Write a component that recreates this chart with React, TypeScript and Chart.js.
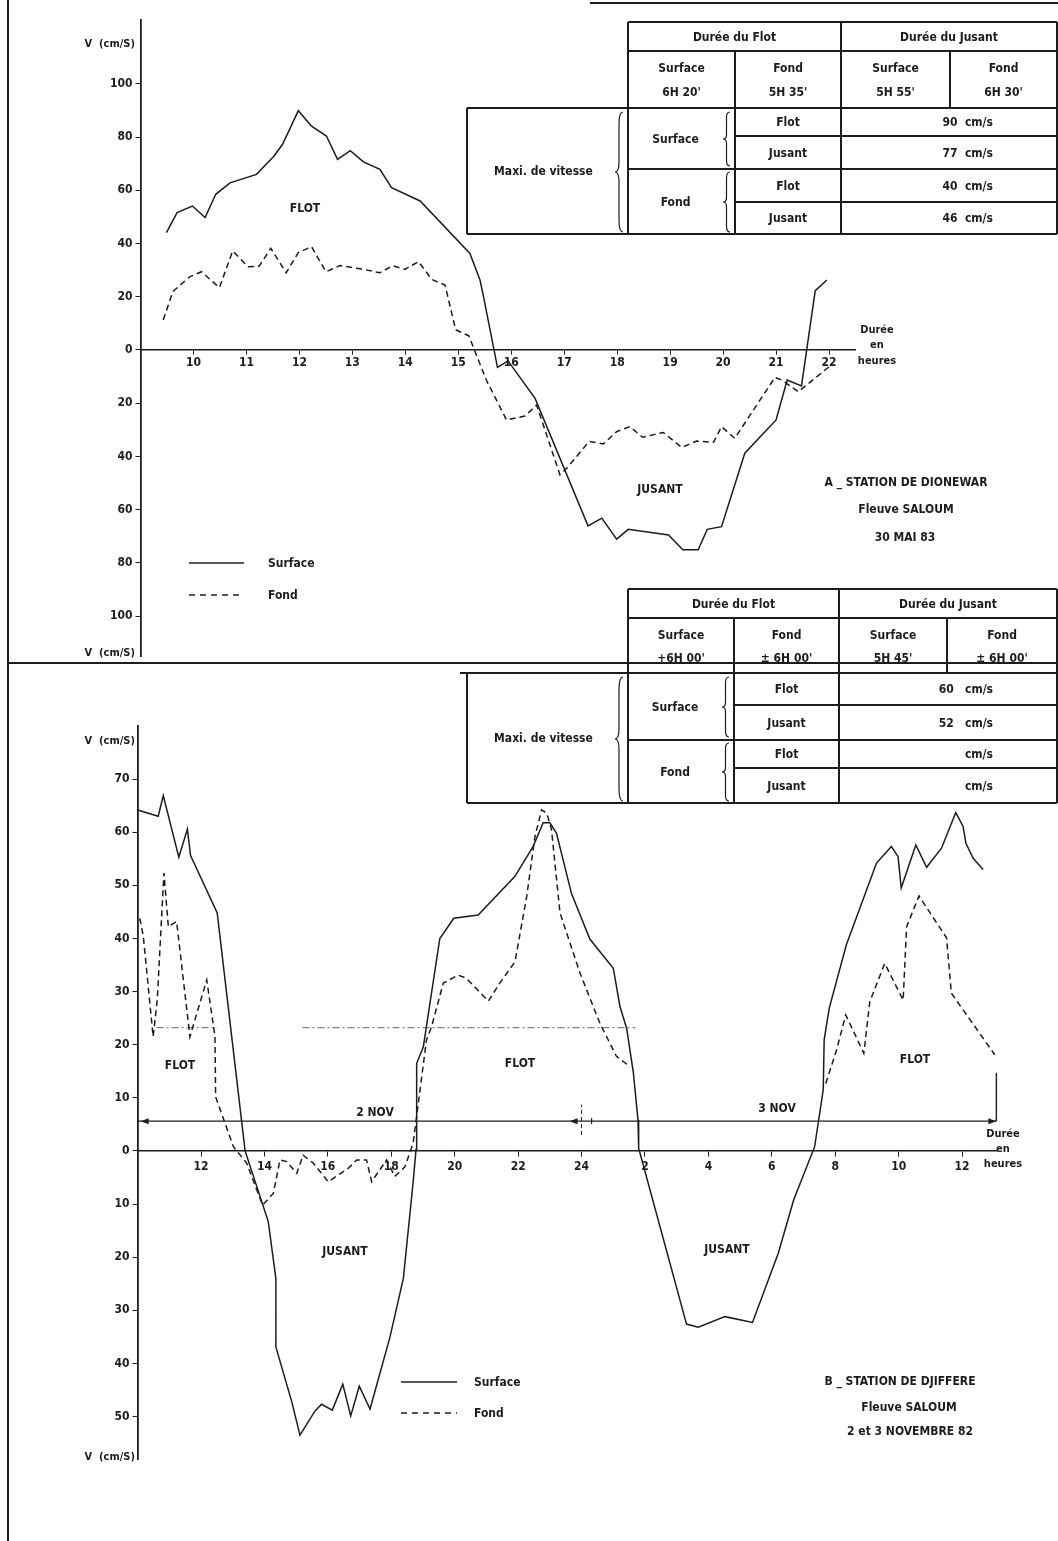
import React, { useEffect, useRef } from "react";
import { Chart, registerables } from "chart.js";

Chart.register(...registerables);

const FONT = '"DejaVu Sans Condensed", "Liberation Sans Narrow", "DejaVu Sans", sans-serif';
const INK = "#1c1c1c";

// ---------------- Panel A : Station de Dionewar, 30 mai 83 ----------------
const A_SURFACE_H = [9.49, 9.69, 9.98, 10.22, 10.42, 10.69, 11.19, 11.51, 11.68, 11.98, 12.23, 12.51, 12.72, 12.96, 13.21, 13.52, 13.74, 14.28, 15.22, 15.41, 15.47, 15.74, 15.94, 16.45, 17.45, 17.71, 17.99, 18.21, 18.97, 19.24, 19.53, 19.7, 19.97, 20.41, 21.0, 21.21, 21.48, 21.74, 21.96];
const A_SURFACE_V = [44.1, 51.6, 54.1, 49.8, 58.5, 62.8, 66.0, 72.6, 77.2, 89.9, 84.1, 80.4, 71.6, 74.9, 70.7, 67.9, 61.0, 56.0, 36.3, 26.3, 20.7, -6.5, -4.1, -18.2, -66.1, -63.2, -71.1, -67.4, -69.5, -75.1, -75.1, -67.4, -66.4, -38.8, -26.3, -11.3, -13.5, 22.3, 26.3];
const A_FOND_H = [9.43, 9.61, 9.75, 9.93, 10.15, 10.49, 10.74, 11.03, 11.24, 11.46, 11.75, 11.98, 12.23, 12.5, 12.77, 13.21, 13.52, 13.76, 13.99, 14.25, 14.5, 14.75, 14.95, 15.2, 15.38, 15.53, 15.91, 16.26, 16.48, 16.92, 17.05, 17.47, 17.74, 17.99, 18.24, 18.48, 18.87, 19.22, 19.5, 19.82, 19.97, 20.22, 20.98, 21.11, 21.42, 22.02];
const A_FOND_V = [11.3, 21.9, 24.4, 27.5, 29.4, 23.4, 37.2, 31.3, 31.5, 38.2, 29.0, 36.6, 38.8, 29.4, 31.7, 30.3, 29.0, 31.7, 30.3, 33.2, 26.5, 24.4, 7.6, 5.3, -3.8, -11.3, -26.3, -24.8, -20.7, -46.9, -44.4, -34.4, -35.3, -30.7, -28.8, -32.8, -31.0, -36.6, -34.2, -34.7, -28.8, -33.2, -10.3, -11.3, -15.7, -6.0];
const A_X_TICKS = [10, 11, 12, 13, 14, 15, 16, 17, 18, 19, 20, 21, 22];
const A_Y_TICKS = [-100, -80, -60, -40, -20, 0, 20, 40, 60, 80, 100];

// ---------------- Panel B : Station de Djiffere, 2 et 3 novembre 82 ----------------
const B_SURFACE_H = [10.0, 10.65, 10.81, 11.3, 11.57, 11.67, 12.51, 13.39, 14.12, 14.36, 14.36, 14.86, 15.12, 15.59, 15.8, 16.14, 16.47, 16.72, 16.99, 17.33, 17.96, 18.38, 18.69, 18.78, 18.8, 19.01, 19.53, 19.97, 20.74, 21.9, 22.47, 22.79, 23.0, 23.21, 23.68, 24.26, 25.0, 25.21, 25.42, 25.63, 25.78, 25.8, 27.31, 27.68, 28.52, 29.39, 30.2, 30.69, 31.35, 31.62, 31.65, 31.81, 32.35, 33.3, 33.77, 33.98, 34.08, 34.54, 34.88, 35.35, 35.8, 36.03, 36.12, 36.35, 36.66];
const B_SURFACE_V = [64.2, 63.0, 66.9, 55.3, 60.6, 55.6, 44.8, 0, -13.3, -24.0, -36.9, -47.2, -53.5, -49.0, -47.7, -48.8, -43.9, -49.9, -44.3, -48.6, -35.0, -24.0, -5.8, 0.3, 16.5, 19.6, 40.0, 43.8, 44.4, 51.7, 57.3, 61.8, 61.8, 59.8, 48.5, 39.9, 34.4, 27.2, 23.1, 14.9, 5.8, 0.5, -32.6, -33.2, -31.2, -32.3, -19.3, -9.2, 0.8, 11.5, 20.9, 26.9, 38.8, 54.2, 57.3, 55.4, 49.5, 57.6, 53.4, 57.0, 63.7, 61.1, 57.9, 55.1, 53.0];
const B_FOND_H = [10.07, 10.18, 10.49, 10.62, 10.83, 10.97, 11.23, 11.65, 12.18, 12.44, 12.46, 13.02, 13.44, 13.94, 14.28, 14.49, 14.7, 15.02, 15.22, 15.54, 16.01, 16.64, 16.91, 17.22, 17.38, 17.85, 18.11, 18.43, 18.69, 19.11, 19.27, 19.64, 20.11, 20.37, 21.06, 21.42, 21.9, 22.27, 22.53, 22.74, 22.9, 23.05, 23.32, 23.95, 24.58, 25.1, 25.52, 28.5, 31.7, 32.04, 32.33, 32.9, 33.09, 33.56, 34.14, 34.25, 34.64, 35.51, 35.66, 37.03];
const B_FOND_V = [43.8, 40.4, 21.5, 28.4, 52.3, 42.2, 43.2, 21.5, 32.2, 21.5, 10.2, 0.8, -2.3, -10.2, -8.0, -1.7, -2.0, -4.2, -0.8, -2.3, -5.8, -3.3, -1.7, -1.7, -5.8, -1.7, -4.8, -3.0, 1.5, 20.9, 23.4, 31.6, 33.1, 32.5, 28.2, 31.6, 35.6, 47.9, 59.2, 64.2, 63.6, 60.6, 44.8, 33.5, 24.0, 17.8, 15.9, null, 12.7, 19.0, 25.6, 18.4, 28.1, 35.3, 28.4, 42.2, 48.0, 40.1, 29.7, 18.1];
const B_REF_H = [10.6, 12.5, 12.6, 15.2, 25.7];
const B_REF_V = [23.2, 23.2, null, 23.2, 23.2];
const B_X_TICKS = [12, 14, 16, 18, 20, 22, 24, 26, 28, 30, 32, 34, 36];
const B_Y_TICKS = [-50, -40, -30, -20, -10, 0, 10, 20, 30, 40, 50, 60, 70];
const B_DAY_LINE_V = 5.6;
const B_DAY_START_H = 10;
const B_DAY_SPLIT_H = 24;
const B_DAY_END_H = 37.08;
const B_END_BAR_TOP_V = 14.7;

// ---------------- Tables ----------------
const TABLE_HEAD = ["Durée du Flot", "Durée du Jusant"];
const TABLE_SUB = ["Surface", "Fond", "Surface", "Fond"];
const TABLE_ROWS = ["Flot", "Jusant", "Flot", "Jusant"];
const TABLE_GROUPS = ["Surface", "Fond"];
const A_DUREES = ["6H 20'", "5H 35'", "5H 55'", "6H 30'"];
const A_MAXI = ["90  cm/s", "77  cm/s", "40  cm/s", "46  cm/s"];
const B_DUREES = ["+6H 00'", "± 6H 00'", "5H 45'", "± 6H 00'"];
const B_MAXI = ["60   cm/s", "52   cm/s", "cm/s", "cm/s"];

const pts = (hs: number[], vs: (number | null)[]) => hs.map((h, i) => ({ x: h, y: vs[i] }));

const tickFont = { family: FONT, size: 12, weight: "bold" as const };

function buildOptions(o: {
  xMin: number; xMax: number; yMin: number; yMax: number;
  xTicks: number[]; yTicks: number[]; yWidth: number;
  pad: { top: number; right: number; bottom: number };
  xLabel: (v: number) => string; xTickLen: number; xPad: number;
}) {
  return {
    responsive: false,
    animation: false as const,
    devicePixelRatio: 1,
    layout: { padding: { left: 0, top: o.pad.top, right: o.pad.right, bottom: o.pad.bottom } },
    plugins: { legend: { display: false }, tooltip: { enabled: false }, title: { display: false } },
    elements: { point: { radius: 0 }, line: { tension: 0 } },
    scales: {
      x: {
        type: "linear" as const,
        min: o.xMin,
        max: o.xMax,
        position: { y: 0 },
        afterBuildTicks: (s: any) => { s.ticks = o.xTicks.map((v) => ({ value: v })); },
        ticks: { callback: (v: any) => o.xLabel(Number(v)), font: tickFont, color: INK, padding: o.xPad, maxRotation: 0, autoSkip: false },
        grid: { display: true, drawOnChartArea: false, drawTicks: true, tickLength: o.xTickLen, color: INK, lineWidth: 1 },
        border: { display: true, color: INK, width: 1.6 },
      },
      y: {
        type: "linear" as const,
        min: o.yMin,
        max: o.yMax,
        position: "left" as const,
        afterFit: (s: any) => { s.width = o.yWidth; },
        afterBuildTicks: (s: any) => { s.ticks = o.yTicks.map((v) => ({ value: v })); },
        ticks: { callback: (v: any) => String(Math.abs(Number(v))), font: tickFont, color: INK, padding: 3, autoSkip: false },
        grid: { display: true, drawOnChartArea: false, drawTicks: true, tickLength: 5, color: INK, lineWidth: 1 },
        border: { display: true, color: INK, width: 1.8 },
      },
    },
  };
}

function arrowHead(ctx: CanvasRenderingContext2D, tipX: number, y: number, dir: number) {
  ctx.beginPath();
  ctx.moveTo(tipX, y);
  ctx.lineTo(tipX - dir * 8, y - 3);
  ctx.lineTo(tipX - dir * 8, y + 3);
  ctx.closePath();
  ctx.fill();
}

const dayPlugin = {
  id: "dayArrows",
  afterDatasetsDraw(chart: any) {
    const { ctx, scales } = chart;
    const x = scales.x, y = scales.y;
    const py = y.getPixelForValue(B_DAY_LINE_V);
    const xs = x.getPixelForValue(B_DAY_START_H);
    const xm = x.getPixelForValue(B_DAY_SPLIT_H);
    const xe = x.getPixelForValue(B_DAY_END_H);
    ctx.save();
    ctx.fillStyle = INK;
    ctx.strokeStyle = INK;
    arrowHead(ctx, xs + 3, py, -1);
    arrowHead(ctx, xm - 12, py, -1);
    ctx.lineWidth = 1.2;
    ctx.beginPath();
    ctx.moveTo(xm + 10, py - 3);
    ctx.lineTo(xm + 10, py + 3);
    ctx.stroke();
    arrowHead(ctx, xe, py, 1);
    ctx.lineWidth = 1.4;
    ctx.beginPath();
    ctx.moveTo(xe, py);
    ctx.lineTo(xe, y.getPixelForValue(B_END_BAR_TOP_V));
    ctx.stroke();
    ctx.setLineDash([4, 3]);
    ctx.lineWidth = 1;
    ctx.beginPath();
    ctx.moveTo(xm, y.getPixelForValue(3.0));
    ctx.lineTo(xm, y.getPixelForValue(8.7));
    ctx.stroke();
    ctx.restore();
  },
};

function ChartCanvas(props: { left: number; top: number; width: number; height: number; config: () => any }) {
  const ref = useRef<HTMLCanvasElement | null>(null);
  useEffect(() => {
    if (!ref.current) return;
    const chart = new Chart(ref.current, props.config());
    return () => chart.destroy();
  }, []);
  return (
    <canvas
      ref={ref}
      width={props.width}
      height={props.height}
      style={{ position: "absolute", left: props.left, top: props.top, width: props.width, height: props.height }}
    />
  );
}

const lineDs = (label: string, data: any[], dashed: boolean, width = 1.5) => ({
  label,
  data,
  borderColor: INK,
  backgroundColor: INK,
  borderWidth: width,
  borderDash: dashed ? [6, 4] : [],
  pointRadius: 0,
  fill: false,
  spanGaps: false,
});

const configA = () => ({
  type: "line",
  data: {
    datasets: [
      lineDs("Surface", pts(A_SURFACE_H, A_SURFACE_V), false),
      lineDs("Fond", pts(A_FOND_H, A_FOND_V), true),
    ],
  },
  options: buildOptions({
    xMin: 9, xMax: 22.5, yMin: -115, yMax: 124,
    xTicks: A_X_TICKS, yTicks: A_Y_TICKS, yWidth: 140.5,
    pad: { top: 20, right: 880 - 855.5, bottom: 670 - 656 },
    xLabel: (v) => String(v), xTickLen: 4, xPad: 2,
  }),
});

const configB = () => ({
  type: "line",
  data: {
    datasets: [
      lineDs("Surface", pts(B_SURFACE_H, B_SURFACE_V), false),
      lineDs("Fond", pts(B_FOND_H, B_FOND_V), true),
      { ...lineDs("Référence", pts(B_REF_H, B_REF_V), true, 0.9), borderDash: [7, 3, 2, 3], borderColor: "#555" },
      lineDs("2 NOV", pts([B_DAY_START_H, B_DAY_SPLIT_H], [B_DAY_LINE_V, B_DAY_LINE_V]), false, 1.2),
      lineDs("3 NOV", pts([B_DAY_SPLIT_H, B_DAY_END_H], [B_DAY_LINE_V, B_DAY_LINE_V]), false, 1.2),
    ],
  },
  options: buildOptions({
    xMin: 10, xMax: 37.1, yMin: -58, yMax: 80,
    xTicks: B_X_TICKS, yTicks: B_Y_TICKS, yWidth: 137.6,
    pad: { top: 26, right: 1058 - 997, bottom: 1480 - 1459 },
    xLabel: (v) => String(v > 24 ? v - 24 : v), xTickLen: 5, xPad: 4,
  }),
  plugins: [dayPlugin],
});

function Txt(p: { x: number; y: number; children: React.ReactNode; align?: "center" | "left" | "right"; size?: number; weight?: string }) {
  const align = p.align || "center";
  const tx = align === "center" ? "-50%" : align === "right" ? "-100%" : "0";
  return (
    <div
      style={{
        position: "absolute", left: p.x, top: p.y, transform: `translate(${tx}, -50%)`,
        fontFamily: FONT, fontSize: p.size || 12, fontWeight: (p.weight || "bold") as any,
        color: INK, whiteSpace: "pre", lineHeight: 1,
      }}
    >
      {p.children}
    </div>
  );
}

function HL(p: { x1: number; x2: number; y: number; w?: number }) {
  const w = p.w || 1.5;
  return <div style={{ position: "absolute", left: p.x1, top: p.y - w / 2, width: p.x2 - p.x1, height: w, background: INK }} />;
}
function VL(p: { x: number; y1: number; y2: number; w?: number }) {
  const w = p.w || 1.5;
  return <div style={{ position: "absolute", left: p.x - w / 2, top: p.y1, width: w, height: p.y2 - p.y1, background: INK }} />;
}

function Brace(p: { x: number; y1: number; y2: number; w?: number }) {
  const w = p.w || 8;
  const h = p.y2 - p.y1;
  const m = w / 2;
  const d = `M ${w} 0 Q ${m} 0 ${m} ${h * 0.1} L ${m} ${h * 0.42} Q ${m} ${h / 2} 0 ${h / 2} Q ${m} ${h / 2} ${m} ${h * 0.58} L ${m} ${h * 0.9} Q ${m} ${h} ${w} ${h}`;
  return (
    <svg style={{ position: "absolute", left: p.x, top: p.y1, overflow: "visible" }} width={w} height={h}>
      <path d={d} fill="none" stroke={INK} strokeWidth={1.2} />
    </svg>
  );
}

function LegendRow(p: { x1: number; x2: number; y: number; dashed: boolean; label: string; labelX: number }) {
  return (
    <>
      <svg style={{ position: "absolute", left: p.x1, top: p.y - 2 }} width={p.x2 - p.x1} height={4}>
        <line x1={0} y1={2} x2={p.x2 - p.x1} y2={2} stroke={INK} strokeWidth={1.5} strokeDasharray={p.dashed ? "6 5" : undefined} />
      </svg>
      <Txt x={p.labelX} y={p.y} align="left">{p.label}</Txt>
    </>
  );
}

function DataTable(p: {
  cols: number[]; yTop: number; yHead: number; ySplit: number; rows: number[]; yBottom: number;
  splitLeft: number; durees: string[]; maxi: string[];
}) {
  const c = p.cols;
  const [r1, r2, r3] = p.rows;
  const rowMids = [(p.ySplit + r1) / 2, (r1 + r2) / 2, (r2 + r3) / 2, (r3 + p.yBottom) / 2];
  return (
    <>
      <HL x1={c[1]} x2={c[5]} y={p.yTop} />
      <HL x1={c[1]} x2={c[5]} y={p.yHead} />
      <HL x1={p.splitLeft} x2={c[5]} y={p.ySplit} />
      <HL x1={c[2]} x2={c[5]} y={r1} />
      <HL x1={c[1]} x2={c[5]} y={r2} />
      <HL x1={c[2]} x2={c[5]} y={r3} />
      <HL x1={c[0]} x2={c[5]} y={p.yBottom} />
      <VL x={c[0]} y1={p.ySplit} y2={p.yBottom} />
      <VL x={c[1]} y1={p.yTop} y2={p.yBottom} />
      <VL x={c[2]} y1={p.yHead} y2={p.yBottom} />
      <VL x={c[3]} y1={p.yTop} y2={p.yBottom} />
      <VL x={c[4]} y1={p.yHead} y2={p.ySplit} />
      <VL x={c[5]} y1={p.yTop} y2={p.yBottom} />
      <Txt x={(c[1] + c[3]) / 2} y={(p.yTop + p.yHead) / 2}>{TABLE_HEAD[0]}</Txt>
      <Txt x={(c[3] + c[5]) / 2} y={(p.yTop + p.yHead) / 2}>{TABLE_HEAD[1]}</Txt>
      {TABLE_SUB.map((s, i) => (
        <React.Fragment key={"s" + i}>
          <Txt x={(c[i + 1] + c[i + 2]) / 2} y={p.yHead + (p.ySplit - p.yHead) * 0.3}>{s}</Txt>
          <Txt x={(c[i + 1] + c[i + 2]) / 2} y={p.yHead + (p.ySplit - p.yHead) * 0.72}>{p.durees[i]}</Txt>
        </React.Fragment>
      ))}
      <Txt x={(c[0] + c[1]) / 2 - 4} y={(p.ySplit + p.yBottom) / 2}>Maxi. de vitesse</Txt>
      <Brace x={c[1] - 13} y1={p.ySplit + 4} y2={p.yBottom - 2} />
      <Txt x={(c[1] + c[2]) / 2 - 6} y={(p.ySplit + r2) / 2}>{TABLE_GROUPS[0]}</Txt>
      <Txt x={(c[1] + c[2]) / 2 - 6} y={(r2 + p.yBottom) / 2}>{TABLE_GROUPS[1]}</Txt>
      <Brace x={c[2] - 12} y1={p.ySplit + 4} y2={r2 - 3} w={7} />
      <Brace x={c[2] - 12} y1={r2 + 3} y2={p.yBottom - 2} w={7} />
      {TABLE_ROWS.map((s, i) => (
        <React.Fragment key={"r" + i}>
          <Txt x={(c[2] + c[3]) / 2} y={rowMids[i]}>{s}</Txt>
          <Txt x={993} y={rowMids[i]} align="right">{p.maxi[i]}</Txt>
        </React.Fragment>
      ))}
    </>
  );
}

export default function App() {
  return (
    <div style={{ position: "absolute", left: 0, top: 0, width: 1058, height: 1541, background: "#fff", overflow: "hidden" }}>
      {/* frame */}
      <VL x={8} y1={0} y2={1541} w={1.6} />
      <HL x1={590} x2={1058} y={3} w={1.6} />
      <HL x1={8} x2={1058} y={663} w={1.6} />

      {/* Panel A */}
      <ChartCanvas left={0} top={0} width={880} height={670} config={configA} />
      <Txt x={135} y={43} align="right" size={11}>{"V  (cm/S)"}</Txt>
      <Txt x={135} y={652} align="right" size={11}>{"V  (cm/S)"}</Txt>
      <Txt x={305} y={208}>FLOT</Txt>
      <Txt x={660} y={489}>JUSANT</Txt>
      <Txt x={877} y={329} size={11}>Durée</Txt>
      <Txt x={877} y={344} size={11}>en</Txt>
      <Txt x={877} y={360} size={11}>heures</Txt>
      <Txt x={906} y={482}>A _ STATION DE DIONEWAR</Txt>
      <Txt x={906} y={509}>Fleuve SALOUM</Txt>
      <Txt x={905} y={537}>30 MAI 83</Txt>
      <LegendRow x1={189} x2={244} y={563} dashed={false} label="Surface" labelX={268} />
      <LegendRow x1={189} x2={244} y={595} dashed={true} label="Fond" labelX={268} />
      <DataTable
        cols={[467, 628, 735, 841, 950, 1057]}
        yTop={22} yHead={51} ySplit={108} rows={[136, 169, 202]} yBottom={234}
        splitLeft={467} durees={A_DUREES} maxi={A_MAXI}
      />

      {/* Panel B */}
      <ChartCanvas left={0} top={700} width={1058} height={780} config={configB} />
      <Txt x={135} y={740} align="right" size={11}>{"V  (cm/S)"}</Txt>
      <Txt x={135} y={1456} align="right" size={11}>{"V  (cm/S)"}</Txt>
      <Txt x={180} y={1065}>FLOT</Txt>
      <Txt x={520} y={1063}>FLOT</Txt>
      <Txt x={915} y={1059}>FLOT</Txt>
      <Txt x={345} y={1251}>JUSANT</Txt>
      <Txt x={727} y={1249}>JUSANT</Txt>
      <Txt x={375} y={1112}>2 NOV</Txt>
      <Txt x={777} y={1108}>3 NOV</Txt>
      <Txt x={1003} y={1133} size={11}>Durée</Txt>
      <Txt x={1003} y={1148} size={11}>en</Txt>
      <Txt x={1003} y={1163} size={11}>heures</Txt>
      <Txt x={900} y={1381}>B _ STATION DE DJIFFERE</Txt>
      <Txt x={909} y={1407}>Fleuve SALOUM</Txt>
      <Txt x={910} y={1431}>2 et 3 NOVEMBRE 82</Txt>
      <LegendRow x1={401} x2={457} y={1382} dashed={false} label="Surface" labelX={474} />
      <LegendRow x1={401} x2={457} y={1413} dashed={true} label="Fond" labelX={474} />
      <DataTable
        cols={[467, 628, 734, 839, 947, 1057]}
        yTop={589} yHead={618} ySplit={673} rows={[705, 740, 768]} yBottom={803}
        splitLeft={460} durees={B_DUREES} maxi={B_MAXI}
      />
    </div>
  );
}
